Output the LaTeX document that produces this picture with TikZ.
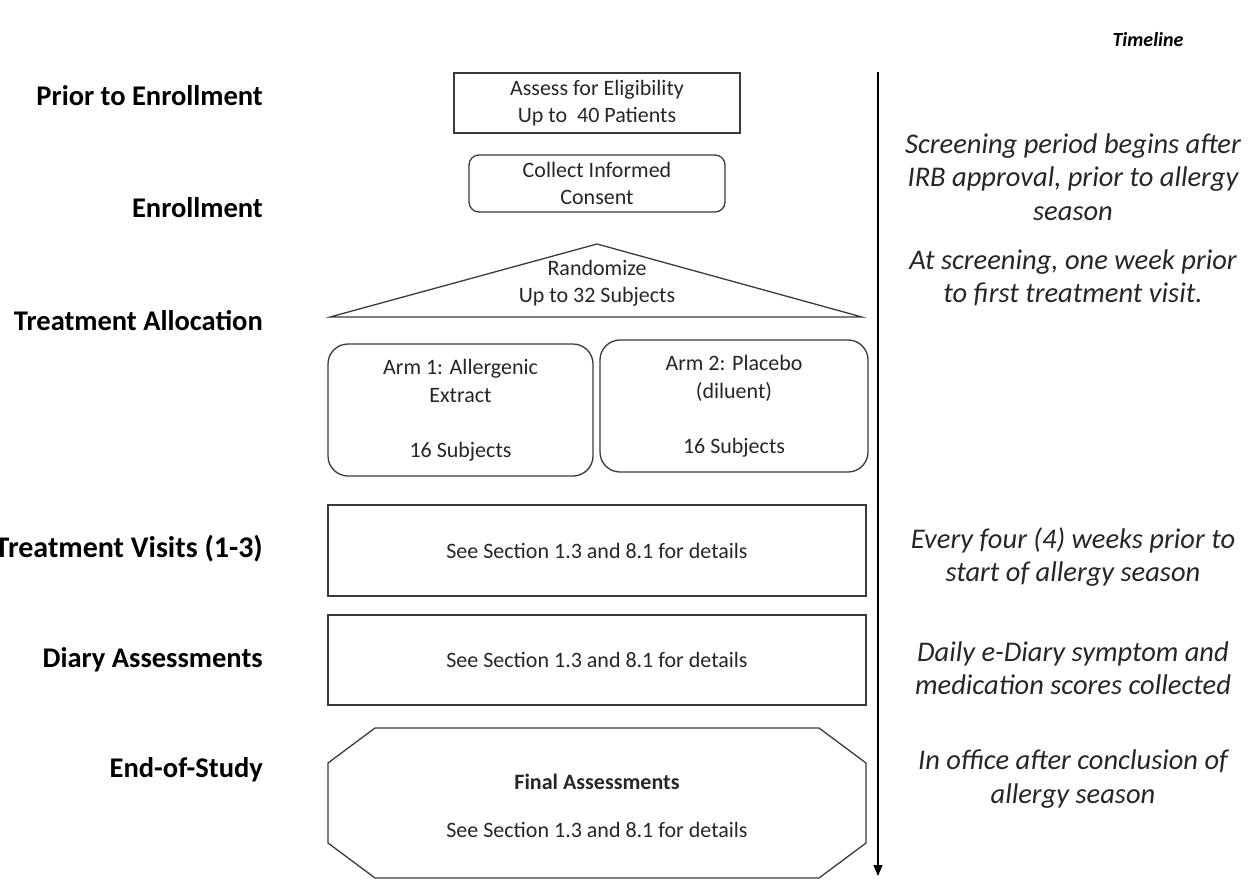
\documentclass[tikz,border=0pt]{standalone}
\usepackage{fontspec}
\setmainfont{Carlito}
\usetikzlibrary{arrows.meta}
\definecolor{ink}{HTML}{262626}
\definecolor{edge}{HTML}{3A3A3A}
\begin{document}
\begin{tikzpicture}[x=1pt,y=-1pt,
  boxtxt/.style={font=\fontsize{22}{27.5}\selectfont, align=center, text=ink, inner sep=0pt},
  phase/.style={font=\fontsize{28.5}{34}\selectfont\bfseries, anchor=base east, text=black, inner sep=0pt},
  note/.style={font=\fontsize{28.5}{33.5}\selectfont\itshape, align=center, text=ink, inner sep=0pt},
  outline/.style={draw=edge, line width=1.3pt},
  rbox/.style={outline, rounded corners=20pt},
]
\useasboundingbox (0,0) rectangle (1254,879);

% timeline
\node[font=\fontsize{20}{24}\selectfont\bfseries\itshape, text=black] (tl) at (1148,40) {Timeline};
\coordinate (tlTop) at (878,72);
\coordinate (tlEnd) at (878,876);
\draw[line width=1.3pt, draw=black, -{Triangle[width=9pt,length=11pt]}] (tlTop) -- (tlEnd);

% left phase labels
\node[phase] (p1) at (263,105) {Prior to Enrollment};
\node[phase] (p2) at (263,217) {Enrollment};
\node[phase] (p3) at (263,330) {Treatment Allocation};
\node[phase, font=\fontsize{30}{34}\selectfont\bfseries] (p4) at (263,557) {Treatment Visits (1-3)};
\node[phase] (p5) at (263,667) {Diary Assessments};
\node[phase] (p6) at (263,777) {End-of-Study};

% boxes
\node[outline, boxtxt, minimum width=286pt, minimum height=60pt] (elig) at (597,103)
  {Assess for Eligibility\\Up to\ \ 40 Patients};
\node[outline, rounded corners=10pt, boxtxt, minimum width=256pt, minimum height=57pt] (consent) at (597,183.5)
  {Collect Informed\\Consent};

% randomize triangle
\coordinate (triA) at (597,244);
\coordinate (triL) at (330,317);
\coordinate (triR) at (862,317);
\draw[outline] (triA) -- (triR) -- (triL) -- cycle;
\node[boxtxt] (rand) at (597,283) {Randomize\\Up to 32 Subjects};

% arms
\node[rbox, boxtxt, minimum width=265pt, minimum height=132pt] (arm1) at (460.5,410)
  {Arm 1: Allergenic\\Extract\\\\16 Subjects};
\node[rbox, boxtxt, minimum width=268pt, minimum height=132pt] (arm2) at (734,406)
  {Arm 2: Placebo\\(diluent)\\\\16 Subjects};

% treatment visits & diary
\node[outline, boxtxt, minimum width=538pt, minimum height=91pt] (visits) at (597,550.5)
  {See Section 1.3 and 8.1 for details};
\node[outline, boxtxt, minimum width=538pt, minimum height=90pt] (diary) at (597,660)
  {See Section 1.3 and 8.1 for details};

% end-of-study octagon
\draw[outline] (375,728) -- (819,728) -- (866,763) -- (866,843) -- (819,878)
  -- (375,878) -- (328,843) -- (328,763) -- cycle;
\node[boxtxt, font=\fontsize{22}{27.5}\selectfont\bfseries] (fin) at (597,782) {Final Assessments};
\node[boxtxt] (fin2) at (597,830) {See Section 1.3 and 8.1 for details};

% timeline notes
\node[note] (n1) at (1073,177) {Screening period begins after\\IRB approval, prior to allergy\\season};
\node[note] (n2) at (1073,278) {At screening, one week prior\\to first treatment visit.};
\node[note] (n3) at (1073,557) {Every four (4) weeks prior to\\start of allergy season};
\node[note] (n4) at (1073,668) {Daily e-Diary symptom and\\medication scores collected};
\node[note] (n5) at (1073,779) {In office after conclusion of\\allergy season};
\end{tikzpicture}
\end{document}
